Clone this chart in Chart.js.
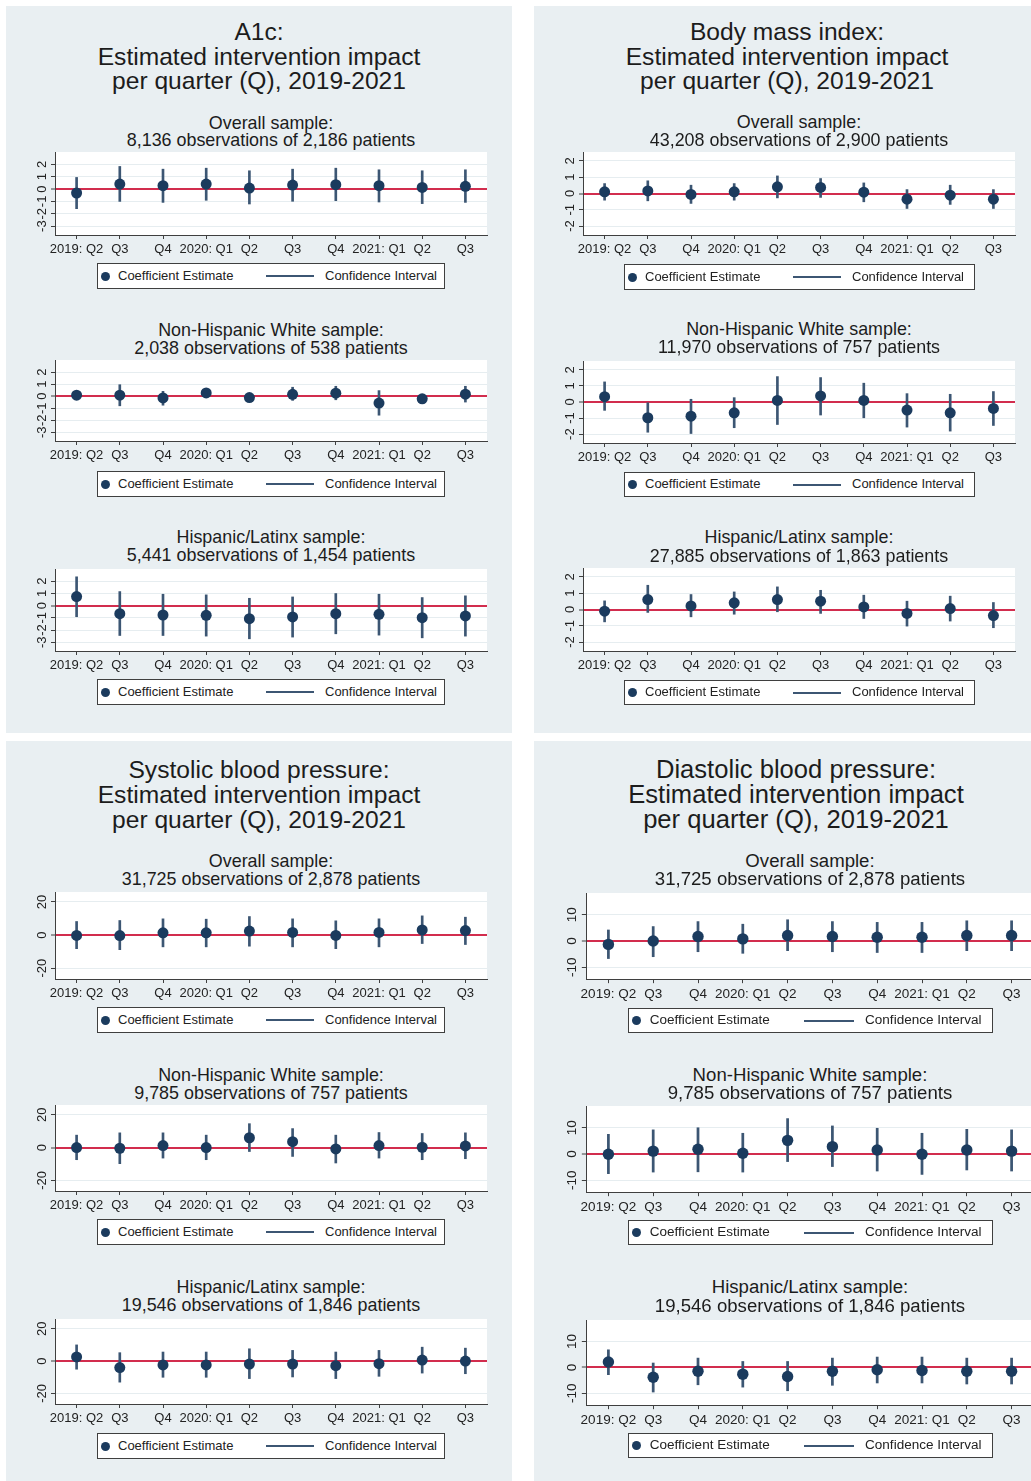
<!DOCTYPE html>
<html>
<head>
<meta charset="utf-8">
<script src="https://cdn.jsdelivr.net/npm/chart.js@4.4.1/dist/chart.umd.min.js"></script>
<style>
  html, body { margin: 0; padding: 0; background: #ffffff; }
  #page { position: relative; width: 1031px; height: 1481px; overflow: hidden; background: #ffffff;
          font-family: "Liberation Sans", Arial, Helvetica, sans-serif; color: #1c1c1c; }
  .panel { position: absolute; background: #e9eff2; }
  .txt { position: absolute; text-align: center; white-space: nowrap; }
  .legend { position: absolute; box-sizing: border-box; border: 1px solid #3f3f3f; background: #ffffff; }
  .legend span { position: absolute; white-space: nowrap; color: #222; }
  .cv { position: absolute; }
</style>
</head>
<body>
<div id="page"></div>
<script>
// ---- categories and tick labels ----
const quarters = ['2019: Q2', 'Q3', 'Q4', '2020: Q1', 'Q2', 'Q3', 'Q4', '2021: Q1', 'Q2', 'Q3'];
const a1cTicks = [-3, -2, -1, 0, 1, 2];
const bmiTicks = [-2, -1, 0, 1, 2];
const sbpTicks = [-20, 0, 20];
const dbpTicks = [-10, 0, 10];

// ---- titles ----
const a1cTitle = ['A1c:', 'Estimated intervention impact', 'per quarter (Q), 2019-2021'];
const bmiTitle = ['Body mass index:', 'Estimated intervention impact', 'per quarter (Q), 2019-2021'];
const sbpTitle = ['Systolic blood pressure:', 'Estimated intervention impact', 'per quarter (Q), 2019-2021'];
const dbpTitle = ['Diastolic blood pressure:', 'Estimated intervention impact', 'per quarter (Q), 2019-2021'];

const a1cSubtitles = [
  ['Overall sample:', '8,136 observations of 2,186 patients'],
  ['Non-Hispanic White sample:', '2,038 observations of 538 patients'],
  ['Hispanic/Latinx sample:', '5,441 observations of 1,454 patients']
];
const bmiSubtitles = [
  ['Overall sample:', '43,208 observations of 2,900 patients'],
  ['Non-Hispanic White sample:', '11,970 observations of 757 patients'],
  ['Hispanic/Latinx sample:', '27,885 observations of 1,863 patients']
];
const bpSubtitles = [
  ['Overall sample:', '31,725 observations of 2,878 patients'],
  ['Non-Hispanic White sample:', '9,785 observations of 757 patients'],
  ['Hispanic/Latinx sample:', '19,546 observations of 1,846 patients']
];
const legendLabels = ['Coefficient Estimate', 'Confidence Interval'];

// ---- A1c ----
const a1cOverallEst  = [-0.32, 0.40, 0.27, 0.40, 0.08, 0.32, 0.35, 0.27, 0.13, 0.22];
const a1cOverallLow  = [-1.59, -1.00, -1.08, -0.91, -1.21, -0.99, -0.94, -1.05, -1.18, -1.08];
const a1cOverallHigh = [0.94, 1.83, 1.61, 1.69, 1.48, 1.61, 1.69, 1.56, 1.48, 1.56];

const a1cWhiteEst  = [0.08, 0.08, -0.15, 0.27, -0.12, 0.15, 0.25, -0.57, -0.22, 0.16];
const a1cWhiteLow  = [-0.20, -0.80, -0.75, -0.05, -0.40, -0.35, -0.30, -1.58, -0.44, -0.49];
const a1cWhiteHigh = [0.35, 0.95, 0.40, 0.60, 0.10, 0.74, 0.82, 0.46, 0.02, 0.82];

const a1cHispEst  = [0.74, -0.66, -0.77, -0.80, -1.07, -0.93, -0.66, -0.71, -0.99, -0.85];
const a1cHispLow  = [-0.91, -2.45, -2.45, -2.50, -2.72, -2.58, -2.31, -2.42, -2.64, -2.50];
const a1cHispHigh = [2.36, 1.15, 0.93, 0.88, 0.60, 0.71, 0.99, 0.93, 0.66, 0.80];

// ---- Body mass index ----
const bmiOverallEst  = [0.10, 0.16, -0.06, 0.10, 0.41, 0.37, 0.08, -0.35, -0.10, -0.35];
const bmiOverallLow  = [-0.41, -0.45, -0.61, -0.41, -0.27, -0.24, -0.51, -0.92, -0.67, -0.92];
const bmiOverallHigh = [0.61, 0.78, 0.51, 0.61, 1.08, 0.92, 0.65, 0.24, 0.51, 0.24];

const bmiWhiteEst  = [0.33, -0.98, -0.88, -0.67, 0.10, 0.38, 0.10, -0.50, -0.67, -0.40];
const bmiWhiteLow  = [-0.52, -1.88, -1.96, -1.60, -1.40, -0.81, -0.98, -1.56, -1.81, -1.46];
const bmiWhiteHigh = [1.25, -0.05, 0.17, 0.27, 1.58, 1.52, 1.17, 0.52, 0.48, 0.65];

const bmiHispEst  = [-0.10, 0.61, 0.22, 0.41, 0.61, 0.51, 0.16, -0.24, 0.06, -0.37];
const bmiHispLow  = [-0.76, -0.18, -0.45, -0.29, -0.14, -0.24, -0.55, -1.02, -0.71, -1.12];
const bmiHispHigh = [0.53, 1.49, 0.92, 1.08, 1.39, 1.18, 0.88, 0.51, 0.82, 0.43];

// ---- Systolic blood pressure ----
const sbpOverallEst  = [-0.2, -0.3, 1.4, 1.4, 2.4, 1.6, -0.2, 1.6, 3.1, 2.7];
const sbpOverallLow  = [-8.2, -8.8, -7.1, -7.1, -6.7, -7.1, -8.2, -7.1, -5.1, -5.7];
const sbpOverallHigh = [8.2, 8.8, 9.8, 9.6, 11.2, 9.8, 8.6, 9.8, 11.6, 10.8];

const sbpWhiteEst  = [0.0, -0.4, 1.2, 0.0, 6.0, 3.6, -0.8, 1.2, 0.2, 1.0];
const sbpWhiteLow  = [-7.4, -9.8, -6.4, -7.4, -2.4, -5.4, -9.4, -6.4, -7.4, -6.8];
const sbpWhiteHigh = [7.6, 9.0, 9.0, 7.6, 14.6, 11.6, 7.6, 9.2, 8.6, 9.0];

const sbpHispEst  = [2.6, -4.0, -2.4, -2.4, -1.8, -1.8, -2.8, -1.6, 0.6, 0.0];
const sbpHispLow  = [-5.0, -13.0, -10.0, -10.0, -10.8, -9.8, -10.8, -9.4, -7.4, -7.8];
const sbpHispHigh = [10.0, 5.2, 5.6, 5.6, 7.6, 6.6, 5.6, 6.6, 8.6, 8.0];

// ---- Diastolic blood pressure ----
const dbpOverallEst  = [-1.3, 0.0, 1.7, 0.8, 2.1, 1.7, 1.4, 1.4, 2.1, 2.1];
const dbpOverallLow  = [-6.7, -6.0, -4.1, -4.7, -3.7, -4.1, -4.4, -4.4, -3.7, -3.7];
const dbpOverallHigh = [4.2, 5.5, 7.4, 6.4, 8.1, 7.4, 7.1, 7.1, 7.7, 7.7];

const dbpWhiteEst  = [-0.1, 1.1, 1.8, 0.3, 5.2, 2.8, 1.5, -0.1, 1.5, 1.1];
const dbpWhiteLow  = [-7.5, -6.9, -6.8, -6.9, -2.9, -4.8, -6.5, -7.8, -6.1, -6.5];
const dbpWhiteHigh = [7.5, 9.2, 10.0, 7.9, 13.5, 10.7, 9.8, 7.9, 9.4, 9.2];

const dbpHispEst  = [2.1, -3.8, -1.5, -2.6, -3.5, -1.5, -0.9, -1.2, -1.5, -1.5];
const dbpHispLow  = [-2.8, -9.5, -6.7, -7.6, -9.0, -6.9, -6.0, -6.0, -6.4, -6.4];
const dbpHispHigh = [6.8, 1.7, 3.6, 2.3, 2.3, 3.6, 4.0, 4.0, 3.6, 3.6];

// ---- styling ----
const FONT = '"Liberation Sans", Arial, Helvetica, sans-serif';
const NAVY = '#1b3b5e';
const CI_COLOR = '#3c5673';
const ZERO_RED = '#d22d4e';
const GRID = '#e6edf0';
const AXIS = '#3f3f3f';
const LABEL = '#222222';

// ---- page geometry (pixels) ----
const panels = [
  { box: [6, 6, 506, 727], title: a1cTitle, titleX: 259, titleY: [32, 57, 81], s: 1,
    plotLeft: 55, plotRight: 487, legendX: [97, 445], ticks: a1cTicks, range: [-3.72, 3.0],
    charts: [
      { sub: a1cSubtitles[0], est: a1cOverallEst, low: a1cOverallLow, high: a1cOverallHigh, subY: [124, 141], top: 152, axis: 235, legend: [263, 289] },
      { sub: a1cSubtitles[1], est: a1cWhiteEst, low: a1cWhiteLow, high: a1cWhiteHigh, subY: [331, 349], top: 360, axis: 441, legend: [471, 497] },
      { sub: a1cSubtitles[2], est: a1cHispEst, low: a1cHispLow, high: a1cHispHigh, subY: [538, 556], top: 569, axis: 651, legend: [679, 705] }
    ] },
  { box: [534, 6, 506, 727], title: bmiTitle, titleX: 787, titleY: [32, 57, 81], s: 1,
    plotLeft: 583, plotRight: 1015, legendX: [624, 975], ticks: bmiTicks, range: [-2.55, 2.55],
    charts: [
      { sub: bmiSubtitles[0], est: bmiOverallEst, low: bmiOverallLow, high: bmiOverallHigh, subY: [123, 141], top: 152, axis: 235, legend: [264, 290] },
      { sub: bmiSubtitles[1], est: bmiWhiteEst, low: bmiWhiteLow, high: bmiWhiteHigh, subY: [330, 348], top: 361, axis: 443, legend: [472, 497] },
      { sub: bmiSubtitles[2], est: bmiHispEst, low: bmiHispLow, high: bmiHispHigh, subY: [538, 557], top: 568, axis: 651, legend: [680, 705] }
    ] },
  { box: [6, 741, 506, 740], title: sbpTitle, titleX: 259, titleY: [770, 795, 820], s: 1,
    plotLeft: 55, plotRight: 487, legendX: [97, 445], ticks: sbpTicks, range: [-26.5, 26],
    charts: [
      { sub: bpSubtitles[0], est: sbpOverallEst, low: sbpOverallLow, high: sbpOverallHigh, subY: [862, 880], top: 892, axis: 979, legend: [1007, 1033] },
      { sub: bpSubtitles[1], est: sbpWhiteEst, low: sbpWhiteLow, high: sbpWhiteHigh, subY: [1076, 1094], top: 1105, axis: 1191, legend: [1219, 1245] },
      { sub: bpSubtitles[2], est: sbpHispEst, low: sbpHispLow, high: sbpHispHigh, subY: [1288, 1306], top: 1319, axis: 1404, legend: [1433, 1459] }
    ] },
  { box: [534, 741, 527, 740], title: dbpTitle, titleX: 796, titleY: [770, 795, 820], s: 1.04,
    plotLeft: 586, plotRight: 1034, legendX: [628, 993], ticks: dbpTicks, range: [-14.5, 18.3],
    charts: [
      { sub: bpSubtitles[0], est: dbpOverallEst, low: dbpOverallLow, high: dbpOverallHigh, subY: [862, 880], top: 893, axis: 979, legend: [1008, 1033] },
      { sub: bpSubtitles[1], est: dbpWhiteEst, low: dbpWhiteLow, high: dbpWhiteHigh, subY: [1076, 1094], top: 1106, axis: 1192, legend: [1220, 1245] },
      { sub: bpSubtitles[2], est: dbpHispEst, low: dbpHispLow, high: dbpHispHigh, subY: [1288, 1307], top: 1320, axis: 1405, legend: [1433, 1458] }
    ] }
];

// ---- plugins ----
const whitePlotRegion = {
  id: 'whitePlotRegion',
  beforeDraw(chart) {
    const { ctx, chartArea: a } = chart;
    ctx.save();
    ctx.fillStyle = '#ffffff';
    ctx.fillRect(a.left, a.top, a.right - a.left, a.bottom - a.top);
    ctx.restore();
  }
};

// y tick labels written vertically, reading upward
const verticalYLabels = {
  id: 'verticalYLabels',
  afterDraw(chart, args, opts) {
    const scale = chart.scales.y;
    const ctx = chart.ctx;
    ctx.save();
    ctx.fillStyle = LABEL;
    ctx.font = opts.size + 'px ' + FONT;
    ctx.textAlign = 'center';
    ctx.textBaseline = 'middle';
    scale.ticks.forEach(t => {
      const y = scale.getPixelForValue(t.value);
      ctx.save();
      ctx.translate(opts.x, y);
      ctx.rotate(-Math.PI / 2);
      ctx.fillText(String(t.value), 0, 0);
      ctx.restore();
    });
    ctx.restore();
  }
};

// ---- builders ----
const page = document.getElementById('page');

function addText(text, cx, cy, size) {
  const d = document.createElement('div');
  d.className = 'txt';
  d.textContent = text;
  d.style.left = (cx - 400) + 'px';
  d.style.width = '800px';
  d.style.fontSize = size + 'px';
  d.style.lineHeight = (size * 1.2) + 'px';
  d.style.top = (cy - size * 0.62) + 'px';
  page.appendChild(d);
}

function addLegend(x0, x1, y0, y1, s) {
  const box = document.createElement('div');
  box.className = 'legend';
  box.style.left = x0 + 'px';
  box.style.top = y0 + 'px';
  box.style.width = (x1 - x0) + 'px';
  box.style.height = (y1 - y0) + 'px';
  const h = y1 - y0;
  const fs = 13 * s;
  const r = 4.5 * s;
  const dot = document.createElement('span');
  dot.style.cssText = `left:${8 * s - r - 1}px;top:${h / 2 - r - 1}px;width:${2 * r}px;height:${2 * r}px;border-radius:50%;background:${NAVY};`;
  box.appendChild(dot);
  const t1 = document.createElement('span');
  t1.textContent = legendLabels[0];
  t1.style.cssText = `left:${20 * s}px;top:${h / 2 - fs * 0.62 - 1}px;font-size:${fs}px;line-height:${fs * 1.2}px;`;
  box.appendChild(t1);
  const line = document.createElement('span');
  line.style.cssText = `left:${168 * s}px;top:${h / 2 - 2}px;width:${48 * s}px;height:2px;background:${CI_COLOR};`;
  box.appendChild(line);
  const t2 = document.createElement('span');
  t2.textContent = legendLabels[1];
  t2.style.cssText = `left:${227 * s}px;top:${h / 2 - fs * 0.62 - 1}px;font-size:${fs}px;line-height:${fs * 1.2}px;`;
  box.appendChild(t2);
  page.appendChild(box);
}

function addChart(panel, c) {
  const s = panel.s;
  const cx = panel.box[0];
  const cy = c.top - 12;
  const cw = panel.plotRight - cx + 12;
  const axisH = 26;
  const ch = c.axis - cy + axisH;
  const wrap = document.createElement('div');
  wrap.className = 'cv';
  wrap.style.left = cx + 'px';
  wrap.style.top = cy + 'px';
  wrap.style.width = cw + 'px';
  wrap.style.height = ch + 'px';
  const canvas = document.createElement('canvas');
  canvas.width = cw;
  canvas.height = ch;
  canvas.style.width = cw + 'px';
  canvas.style.height = ch + 'px';
  wrap.appendChild(canvas);
  page.appendChild(wrap);

  const yTicks = panel.ticks;
  new Chart(canvas, {
    type: 'bar',
    data: {
      labels: quarters,
      datasets: [
        { type: 'line', label: legendLabels[0], data: c.est, showLine: false,
          pointRadius: 5.5 * s, pointHoverRadius: 5.5 * s, pointBackgroundColor: NAVY,
          pointBorderColor: NAVY, pointBorderWidth: 0, clip: false, order: 0 },
        { type: 'bar', label: legendLabels[1], data: c.low.map((v, i) => [v, c.high[i]]),
          backgroundColor: CI_COLOR, borderWidth: 0, barThickness: 2 * s, grouped: false,
          clip: false, order: 1 }
      ]
    },
    options: {
      responsive: false,
      animation: false,
      devicePixelRatio: 1,
      events: [],
      layout: { padding: { top: c.top - cy, right: cx + cw - panel.plotRight, left: 0, bottom: 0 } },
      plugins: {
        legend: { display: false },
        tooltip: { enabled: false },
        title: { display: false },
        verticalYLabels: { x: panel.plotLeft - cx - 13 * s, size: 13 * s }
      },
      scales: {
        x: {
          type: 'category',
          offset: true,
          grid: { display: true, drawOnChartArea: false, drawTicks: true, tickLength: 4 * s,
                  offset: false, tickColor: AXIS, tickWidth: 1 },
          border: { display: true, color: AXIS, width: 1 },
          ticks: { autoSkip: false, maxRotation: 0, minRotation: 0, padding: 3,
                   color: LABEL, font: { family: FONT, size: 13 * s } },
          afterFit: sc => { sc.height = axisH; }
        },
        y: {
          min: panel.range[0],
          max: panel.range[1],
          afterBuildTicks: sc => { sc.ticks = yTicks.map(v => ({ value: v })); },
          ticks: { display: false },
          grid: {
            color: g => (g.tick && g.tick.value === 0 ? ZERO_RED : GRID),
            lineWidth: g => (g.tick && g.tick.value === 0 ? 2 : 1),
            drawTicks: true, tickLength: 4 * s, tickColor: AXIS, tickWidth: 1
          },
          border: { display: true, color: AXIS, width: 1 },
          afterFit: sc => { sc.width = panel.plotLeft - cx; }
        }
      }
    },
    plugins: [whitePlotRegion, verticalYLabels]
  });
}

panels.forEach(p => {
  const bg = document.createElement('div');
  bg.className = 'panel';
  bg.style.left = p.box[0] + 'px';
  bg.style.top = p.box[1] + 'px';
  bg.style.width = p.box[2] + 'px';
  bg.style.height = p.box[3] + 'px';
  page.appendChild(bg);
});

panels.forEach(p => {
  const s = p.s;
  p.title.forEach((t, i) => addText(t, p.titleX, p.titleY[i], 24.6 * s));
  const subX = (p.plotLeft + p.plotRight) / 2;
  p.charts.forEach(c => {
    addText(c.sub[0], subX, c.subY[0], 17.9 * s);
    addText(c.sub[1], subX, c.subY[1], 17.9 * s);
    addChart(p, c);
    addLegend(p.legendX[0], p.legendX[1], c.legend[0], c.legend[1], s);
  });
});
</script>
</body>
</html>
